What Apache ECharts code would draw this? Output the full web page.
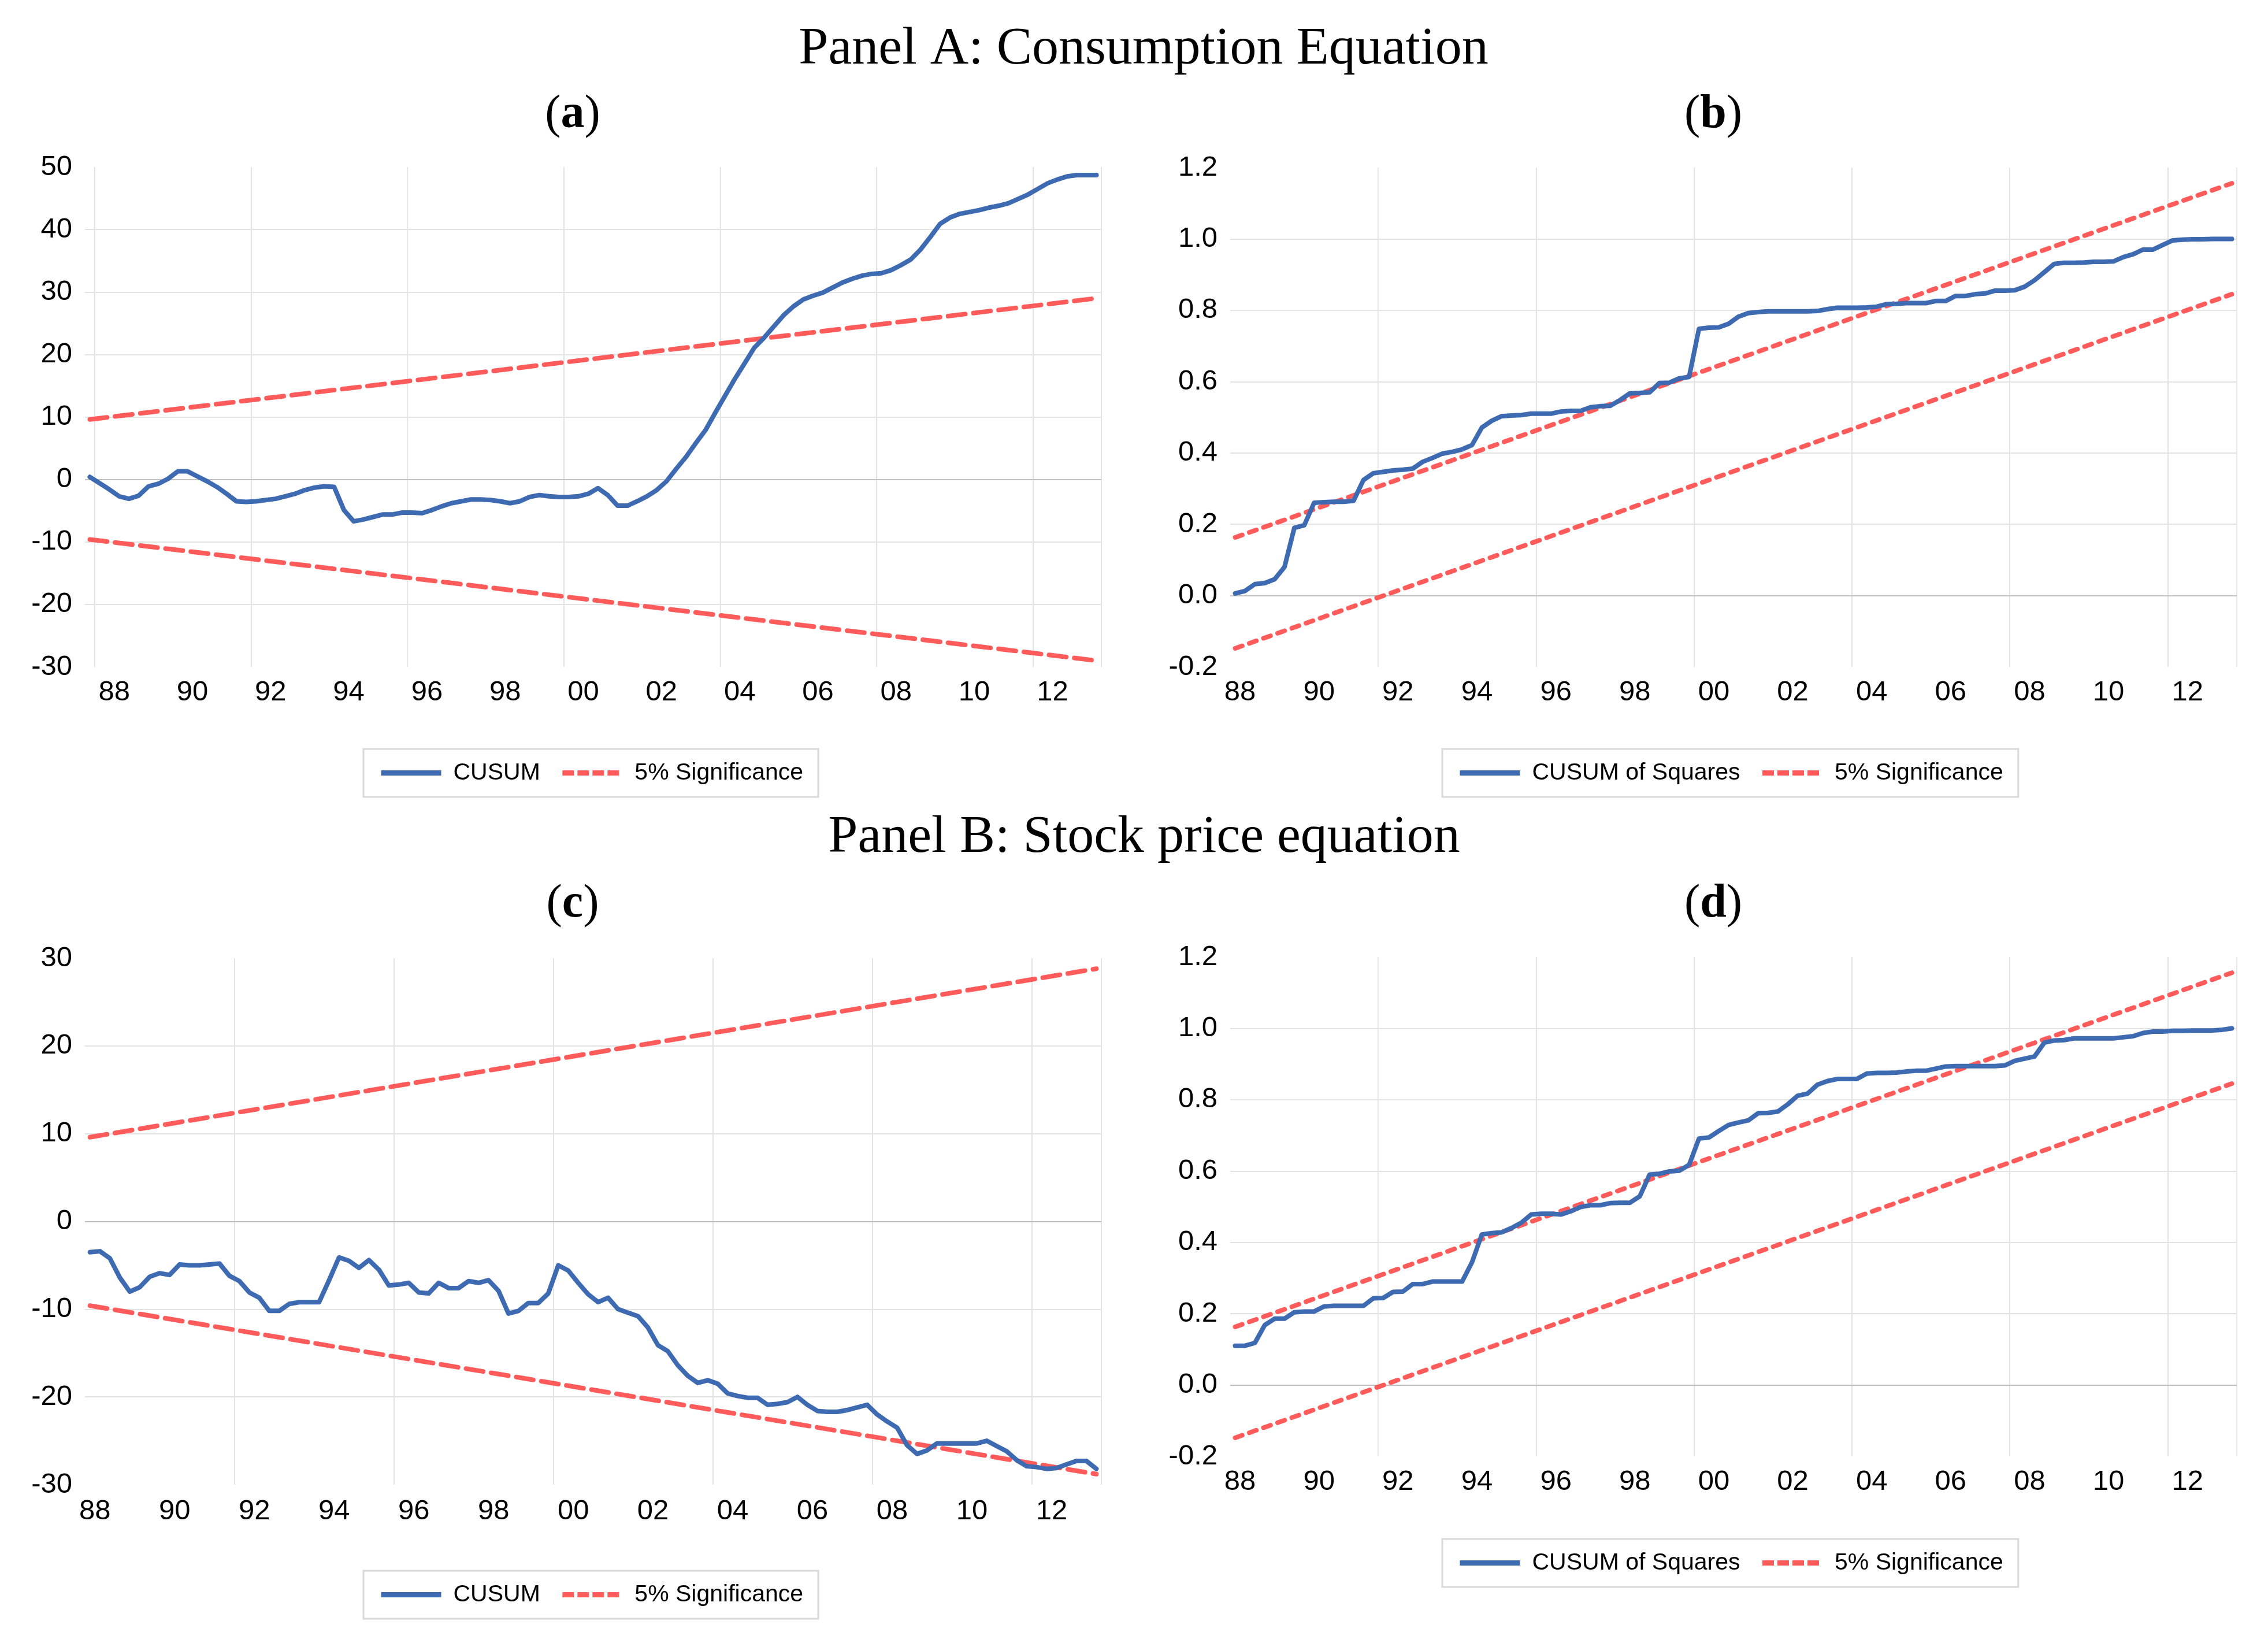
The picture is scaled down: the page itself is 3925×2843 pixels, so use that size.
<!DOCTYPE html>
<html>
<head>
<meta charset="utf-8">
<script src="https://cdn.jsdelivr.net/npm/echarts@6/dist/echarts.min.js"></script>
<style>
  html, body { margin: 0; padding: 0; background: #ffffff; }
  #chart { width: 3925px; height: 2843px; }
</style>
</head>
<body>
<div id="chart"></div>
<script>
// ---------------- DATA ----------------
// Panel (a) CUSUM, consumption equation (quarterly, 1987Q2 start)
const cusumA = [0.4, -0.6, -1.6, -2.7, -3.1, -2.6, -1.1, -0.7, 0.1, 1.3,
  1.3, 0.5, -0.3, -1.2, -2.3, -3.5, -3.6, -3.5, -3.3, -3.1,
  -2.7, -2.3, -1.7, -1.3, -1.1, -1.2, -4.9, -6.7, -6.4, -6.0,
  -5.6, -5.6, -5.3, -5.3, -5.4, -4.9, -4.3, -3.8, -3.5, -3.2,
  -3.2, -3.3, -3.5, -3.8, -3.5, -2.8, -2.5, -2.7, -2.8, -2.8,
  -2.7, -2.3, -1.4, -2.5, -4.2, -4.2, -3.5, -2.7, -1.7, -0.3,
  1.7, 3.6, 5.8, 7.9, 10.7, 13.4, 16.1, 18.6, 21.1, 22.7,
  24.5, 26.3, 27.7, 28.8, 29.4, 29.9, 30.7, 31.5, 32.1, 32.6,
  32.9, 33.0, 33.5, 34.3, 35.2, 36.8, 38.8, 40.9, 41.9, 42.5,
  42.8, 43.1, 43.5, 43.8, 44.2, 44.9, 45.6, 46.5, 47.4, 48.0,
  48.5, 48.7, 48.7, 48.7];
const upperA = [9.6, 29.0];     // start, end of 5% band
const lowerA = [-9.6, -29.0];

// Panel (b) CUSUM of squares, consumption equation (1987Q4 start)
const cusumsqB = [0.006, 0.013, 0.032, 0.035, 0.046, 0.08, 0.19, 0.197, 0.26, 0.262,
  0.263, 0.263, 0.266, 0.324, 0.343, 0.347, 0.351, 0.353, 0.356, 0.375,
  0.386, 0.398, 0.403, 0.41, 0.422, 0.471, 0.49, 0.503, 0.505, 0.506,
  0.51, 0.51, 0.51, 0.516, 0.518, 0.518, 0.528, 0.531, 0.532, 0.548,
  0.567, 0.568, 0.57, 0.596, 0.597, 0.609, 0.613, 0.748, 0.751, 0.752,
  0.762, 0.782, 0.792, 0.795, 0.797, 0.797, 0.797, 0.797, 0.797, 0.798,
  0.803, 0.807, 0.807, 0.807, 0.808, 0.81, 0.817, 0.818, 0.82, 0.82,
  0.82, 0.826, 0.826, 0.84, 0.84, 0.845, 0.847, 0.855, 0.855, 0.856,
  0.866, 0.884, 0.907, 0.93, 0.933, 0.933, 0.934, 0.936, 0.936, 0.937,
  0.949, 0.957, 0.97, 0.97, 0.983, 0.996, 0.998, 0.999, 0.999, 1.0,
  1.0, 1.0];
const upperB = [0.163, 1.156];
const lowerB = [-0.148, 0.845];

// Panel (c) CUSUM, stock price equation (1987Q4 start)
const cusumC = [-3.5, -3.4, -4.2, -6.4, -8.0, -7.5, -6.3, -5.9, -6.1, -4.9,
  -5.0, -5.0, -4.9, -4.8, -6.2, -6.8, -8.1, -8.7, -10.2, -10.2,
  -9.4, -9.2, -9.2, -9.2, -6.7, -4.1, -4.5, -5.3, -4.4, -5.5,
  -7.3, -7.2, -7.0, -8.1, -8.2, -7.0, -7.6, -7.6, -6.8, -7.0,
  -6.7, -7.9, -10.5, -10.2, -9.3, -9.3, -8.2, -5.0, -5.6, -7.0,
  -8.3, -9.2, -8.7, -10.0, -10.4, -10.8, -12.1, -14.1, -14.8, -16.4,
  -17.6, -18.4, -18.1, -18.5, -19.6, -19.9, -20.1, -20.1, -20.9, -20.8,
  -20.6, -20.0, -20.9, -21.6, -21.7, -21.7, -21.5, -21.2, -20.9, -22.0,
  -22.8, -23.5, -25.5, -26.5, -26.1, -25.3, -25.3, -25.3, -25.3, -25.3,
  -25.0, -25.6, -26.2, -27.2, -27.9, -28.0, -28.2, -28.1, -27.7, -27.3,
  -27.3, -28.2];
const upperC = [9.6, 28.8];
const lowerC = [-9.6, -28.8];

// Panel (d) CUSUM of squares, stock price equation (1987Q4 start)
const cusumsqD = [0.11, 0.11, 0.118, 0.168, 0.186, 0.186, 0.204, 0.206, 0.206, 0.22,
  0.222, 0.222, 0.222, 0.222, 0.243, 0.244, 0.261, 0.262, 0.283, 0.283,
  0.29, 0.29, 0.29, 0.29, 0.344, 0.422, 0.426, 0.428, 0.44, 0.455,
  0.478, 0.48, 0.48, 0.478, 0.487, 0.499, 0.504, 0.504, 0.51, 0.511,
  0.511, 0.529, 0.59, 0.592, 0.599, 0.601, 0.617, 0.691, 0.694, 0.712,
  0.729, 0.736, 0.742, 0.762, 0.763, 0.767, 0.787, 0.811, 0.817, 0.842,
  0.852, 0.858, 0.858, 0.858, 0.873, 0.875, 0.875, 0.876, 0.879, 0.881,
  0.881, 0.887, 0.893, 0.894, 0.894, 0.894, 0.894, 0.894, 0.896, 0.909,
  0.915, 0.921, 0.96, 0.966, 0.967, 0.972, 0.972, 0.972, 0.972, 0.972,
  0.975, 0.978, 0.987, 0.991, 0.991, 0.993, 0.993, 0.994, 0.994, 0.994,
  0.996, 1.0];
const upperD = [0.163, 1.156];
const lowerD = [-0.148, 0.845];

// Category starts (year, quarter)
const startA = [1987, 2];
const startBCD = [1987, 4];

// Text
const panelTitles = ['Panel A: Consumption Equation', 'Panel B: Stock price equation'];
const subLetters = ['a', 'b', 'c', 'd'];
const legendNames = ['CUSUM', 'CUSUM of Squares', '5% Significance'];

// ---------------- HELPERS ----------------
function quarters(start, n) {
  let y = start[0], q = start[1];
  const out = [];
  for (let i = 0; i < n; i++) {
    out.push(y + 'Q' + q);
    q++; if (q > 4) { q = 1; y++; }
  }
  return out;
}
const BLUE = '#3D6AB1';
const RED = '#FF5B5B';
const GRID = '#E3E3E3';
const FONT = 'Liberation Sans';
const SERIF = 'Liberation Serif';

const panels = [
  { vals: cusumA, up: upperA, lo: lowerA, start: startA, name: legendNames[0],
    grid: { left: 147, top: 289, width: 1759, height: 865 },
    y: { min: -30, max: 50, interval: 10, dec: 0 }, labOff: 3, gridOff: 1, xMargin: 20,
    dash: [30, 14], legend: { left: 629, top: 1296 } },
  { vals: cusumsqB, up: upperB, lo: lowerB, start: startBCD, name: legendNames[1],
    grid: { left: 2129, top: 290, width: 1742, height: 864 },
    y: { min: -0.2, max: 1.2, interval: 0.2, dec: 1 }, labOff: 1, gridOff: 15, xMargin: 20,
    dash: [13, 13], legend: { left: 2496, top: 1296 } },
  { vals: cusumC, up: upperC, lo: lowerC, start: startBCD, name: legendNames[0],
    grid: { left: 147, top: 1658, width: 1759, height: 911 },
    y: { min: -30, max: 30, interval: 10, dec: 0 }, labOff: 1, gridOff: 15, xMargin: 22,
    dash: [30, 14], legend: { left: 629, top: 2718 } },
  { vals: cusumsqD, up: upperD, lo: lowerD, start: startBCD, name: legendNames[1],
    grid: { left: 2129, top: 1656, width: 1742, height: 864 },
    y: { min: -0.2, max: 1.2, interval: 0.2, dec: 1 }, labOff: 1, gridOff: 15, xMargin: 20,
    dash: [13, 13], legend: { left: 2496, top: 2663 } }
];

const grids = [], xAxes = [], yAxes = [], series = [], legends = [];
panels.forEach((p, g) => {
  const n = p.vals.length;
  const cats = quarters(p.start, n);
  const band = p.grid.width / n;
  grids.push(Object.assign({ containLabel: false }, p.grid));
  xAxes.push({
    type: 'category', gridIndex: g, data: cats, boundaryGap: true,
    axisLine: { show: false }, axisTick: { show: false },
    axisLabel: {
      interval: (i) => i % 8 === p.labOff,
      formatter: (v) => v.slice(2, 4),
      fontSize: 49, color: '#000', fontFamily: FONT, margin: p.xMargin,
      padding: [0, Math.round(band), 0, 0]
    },
    splitLine: { show: true, interval: (i) => i % 16 === p.gridOff,
      lineStyle: { color: GRID, width: 2 } }
  });
  yAxes.push({
    type: 'value', gridIndex: g, min: p.y.min, max: p.y.max, interval: p.y.interval,
    axisLine: { show: false }, axisTick: { show: false },
    axisLabel: {
      fontSize: 49, color: '#000', fontFamily: FONT, margin: 22,
      padding: [0, 0, 18, 0],
      formatter: (v) => Number(v).toFixed(p.y.dec)
    },
    splitLine: { show: true, showMinLine: false, showMaxLine: false,
      lineStyle: { color: GRID, width: 2 } }
  });
  series.push({
    type: 'line', name: p.name, xAxisIndex: g, yAxisIndex: g, data: p.vals,
    symbol: 'none', z: 4,
    lineStyle: { color: BLUE, width: 8, cap: 'round', join: 'round' },
    itemStyle: { color: BLUE },
    markLine: {
      silent: true, symbol: 'none', z: 1, animation: false,
      label: { show: false },
      lineStyle: { color: '#BFBFBF', width: 2, type: 'solid' },
      data: [{ yAxis: 0 }]
    }
  });
  [p.up, p.lo].forEach((b) => {
    series.push({
      type: 'line', name: legendNames[2], xAxisIndex: g, yAxisIndex: g,
      data: [[0, b[0]], [n - 1, b[1]]],
      symbol: 'none', z: 3,
      lineStyle: { color: RED, width: 8, type: p.dash, cap: 'round' },
      itemStyle: { color: RED }
    });
  });
  legends.push({
    data: [
      { name: p.name, itemStyle: { opacity: 0 },
        lineStyle: { color: BLUE, width: 9, type: 'solid', cap: 'butt', opacity: 1 } },
      { name: legendNames[2], itemStyle: { opacity: 0 },
        lineStyle: { color: RED, width: 9, type: [20, 6], cap: 'butt', opacity: 1 } }
    ],
    left: p.legend.left, top: p.legend.top, orient: 'horizontal',
    padding: [21, 26, 21, 26], borderColor: '#D9D9D9', borderWidth: 3,
    itemWidth: 104, itemHeight: 12, itemGap: 34,
    textStyle: { fontSize: 41, color: '#000', fontFamily: FONT, padding: [0, 0, 0, 16] },
    selectedMode: false
  });
});

const serifRich = {
  p: { fontSize: 82, fontFamily: SERIF, color: '#000' },
  b: { fontSize: 82, fontFamily: SERIF, color: '#000', fontWeight: 'bold' }
};
function subTitle(letter, x, y) {
  return { type: 'text', x: x, y: y,
    style: { text: '{p|(}{b|' + letter + '}{p|)}', rich: serifRich,
      fontSize: 82, fontFamily: SERIF, fill: '#000', align: 'center', verticalAlign: 'middle' } };
}
const graphics = [
  { type: 'text', x: 1979, y: 86,
    style: { text: panelTitles[0], fontSize: 92, fontFamily: SERIF, fill: '#000', align: 'center', verticalAlign: 'middle' } },
  { type: 'text', x: 1980, y: 1450,
    style: { text: panelTitles[1], fontSize: 92, fontFamily: SERIF, fill: '#000', align: 'center', verticalAlign: 'middle' } },
  subTitle(subLetters[0], 991, 199),
  subTitle(subLetters[1], 2965, 199),
  subTitle(subLetters[2], 991, 1565),
  subTitle(subLetters[3], 2965, 1565)
];

const chart = echarts.init(document.getElementById('chart'), null, { renderer: 'canvas' });
chart.setOption({
  backgroundColor: '#ffffff',
  animation: false,
  grid: grids,
  xAxis: xAxes,
  yAxis: yAxes,
  series: series,
  legend: legends,
  graphic: graphics
});
</script>
</body>
</html>
